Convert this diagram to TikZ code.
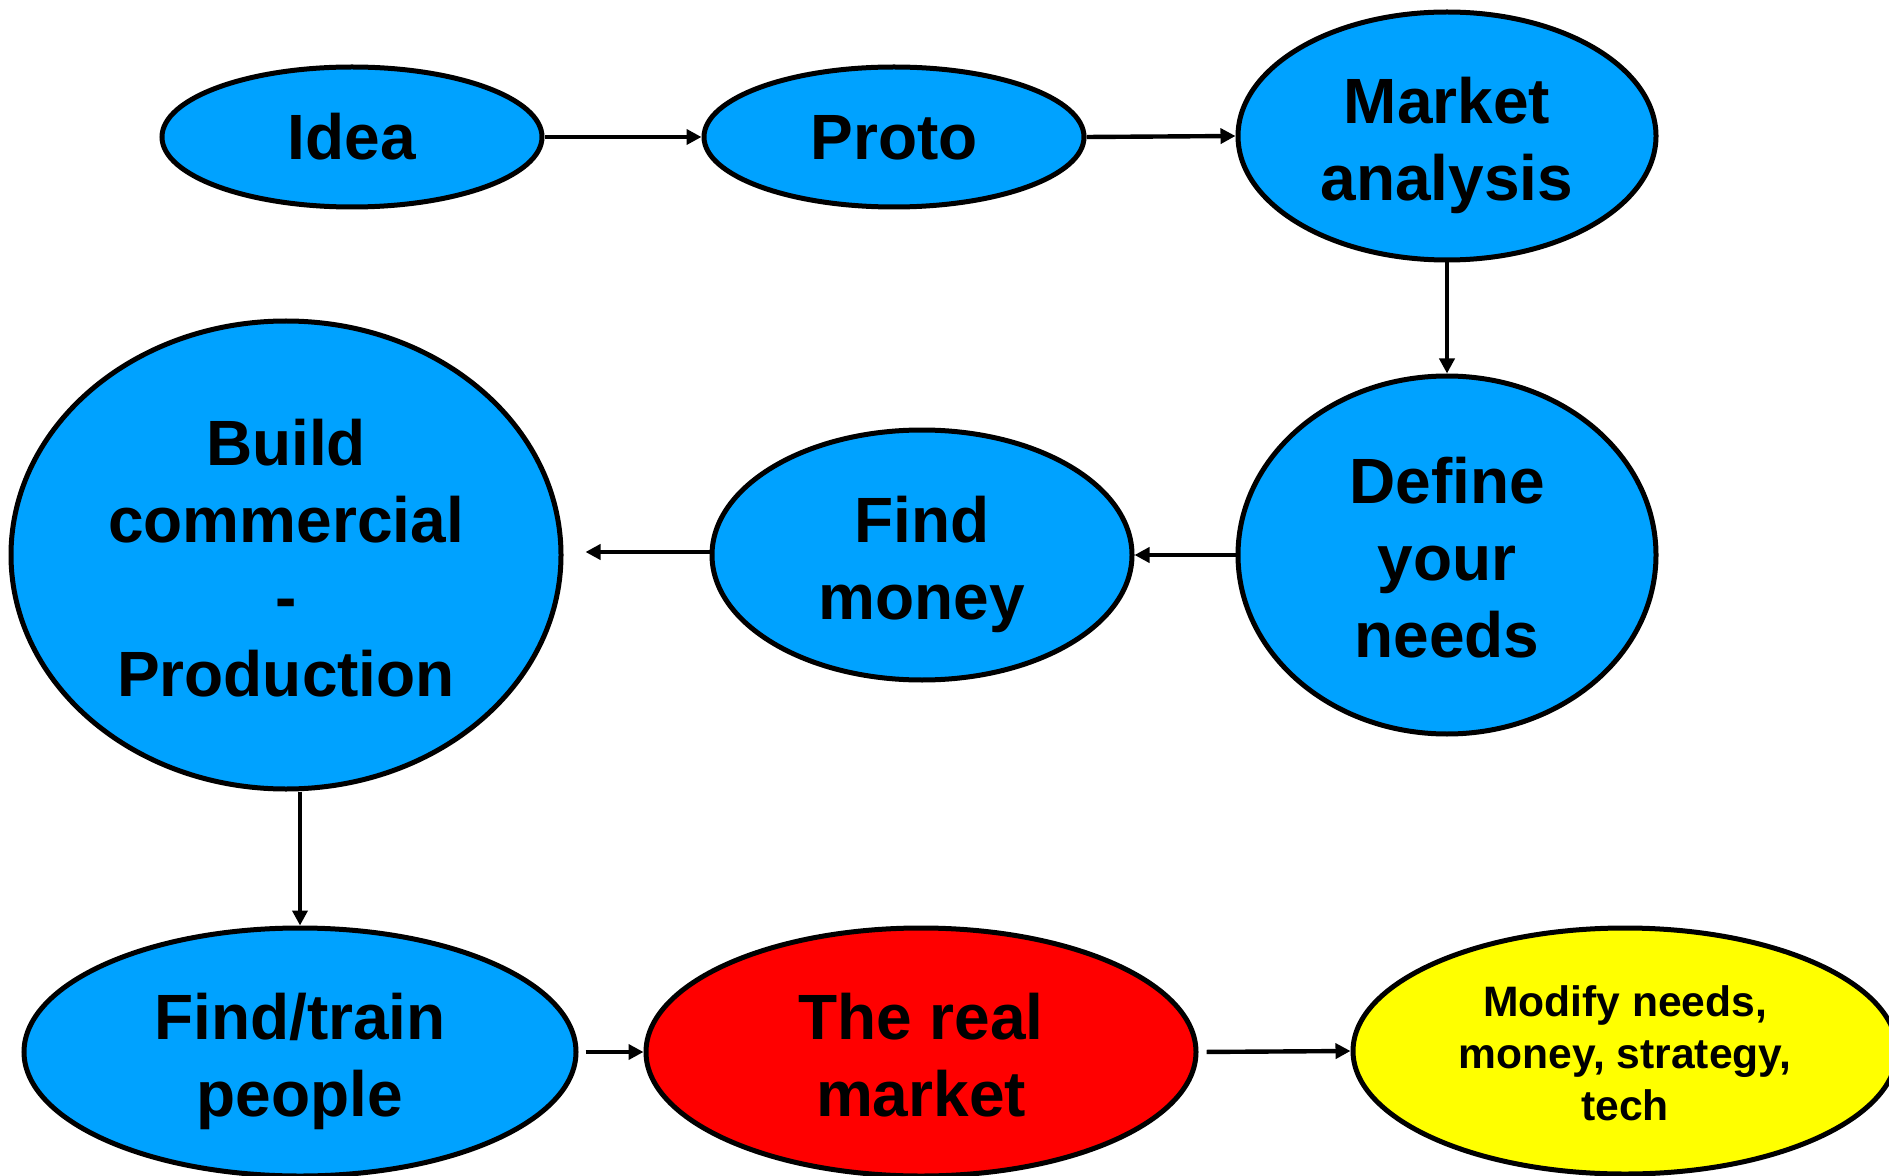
\documentclass[tikz,border=0pt]{standalone}
\usepackage{fontspec}
\setmainfont{Liberation Sans}
\usetikzlibrary{shapes.geometric,arrows.meta,calc}
\definecolor{nodeblue}{RGB}{0,162,255}
\definecolor{nodered}{RGB}{255,0,0}
\definecolor{nodeyellow}{RGB}{255,255,0}
\newcommand\lstrut{\rule[-0.212em]{0pt}{1.117em}}
\newcommand\tstrut{\rule[-0.212em]{0pt}{1.23em}}
\tikzset{
  bubble/.style={ellipse, draw=black, line width=2.5pt, fill=nodeblue, inner sep=-20pt, align=center,
    font=\fontsize{32}{38.5}\selectfont\bfseries},
  link/.style={line width=2.2pt, -{Triangle[length=7.5pt,width=7.5pt]}},
}
\begin{document}
\begin{tikzpicture}[x=0.5pt,y=-0.5pt]
\useasboundingbox (0,0) rectangle (1889,1176);
\node[bubble, minimum width=190pt, minimum height=70pt] (idea) at (352,137) {\lstrut Idea};
\node[bubble, minimum width=190pt, minimum height=70pt] (proto) at (894,137) {\lstrut Proto};
\node[bubble, minimum width=209pt, minimum height=124pt] (market) at (1447,136) {\tstrut Market\\\lstrut analysis};
\node[bubble, minimum width=209pt, minimum height=179pt] (define) at (1447,555) {\tstrut Define\\your\\\lstrut needs};
\node[bubble, minimum width=210pt, minimum height=125pt] (money) at (922,555) {\tstrut Find\\\lstrut money};
\node[bubble, minimum width=275pt, minimum height=234pt] (build) at (286,555) {\tstrut Build\\commercial\\-\\\lstrut Production};
\node[bubble, minimum width=276pt, minimum height=124pt] (people) at (300,1052) {\tstrut Find/train\\\lstrut people};
\node[bubble, fill=nodered, minimum width=275pt, minimum height=124pt] (real) at (921,1052) {\tstrut The real\\\lstrut market};
\node[bubble, fill=nodeyellow, minimum width=272pt, minimum height=123pt,
  font=\fontsize{21.3}{26}\selectfont\bfseries] (modify) at (1625,1051) {\tstrut Modify needs,\\money, strategy,\\\lstrut tech};
\draw[link] (idea.east) -- (proto.west);
\draw[link] (proto.east) -- (market.west);
\draw[link] (market.south) -- (define.north);
\draw[link] (define.west) -- (money.east);
\draw[link, shorten >=11pt] ($(money.west)+(0,-3)$) -- ($(build.east)+(0,-3)$);
\draw[link] (build.south -| people.north) -- (people.north);
\draw[link, shorten <=3.5pt] (people.east) -- (real.west);
\draw[link, shorten <=4pt] (real.east) -- (modify.west);
\end{tikzpicture}
\end{document}
